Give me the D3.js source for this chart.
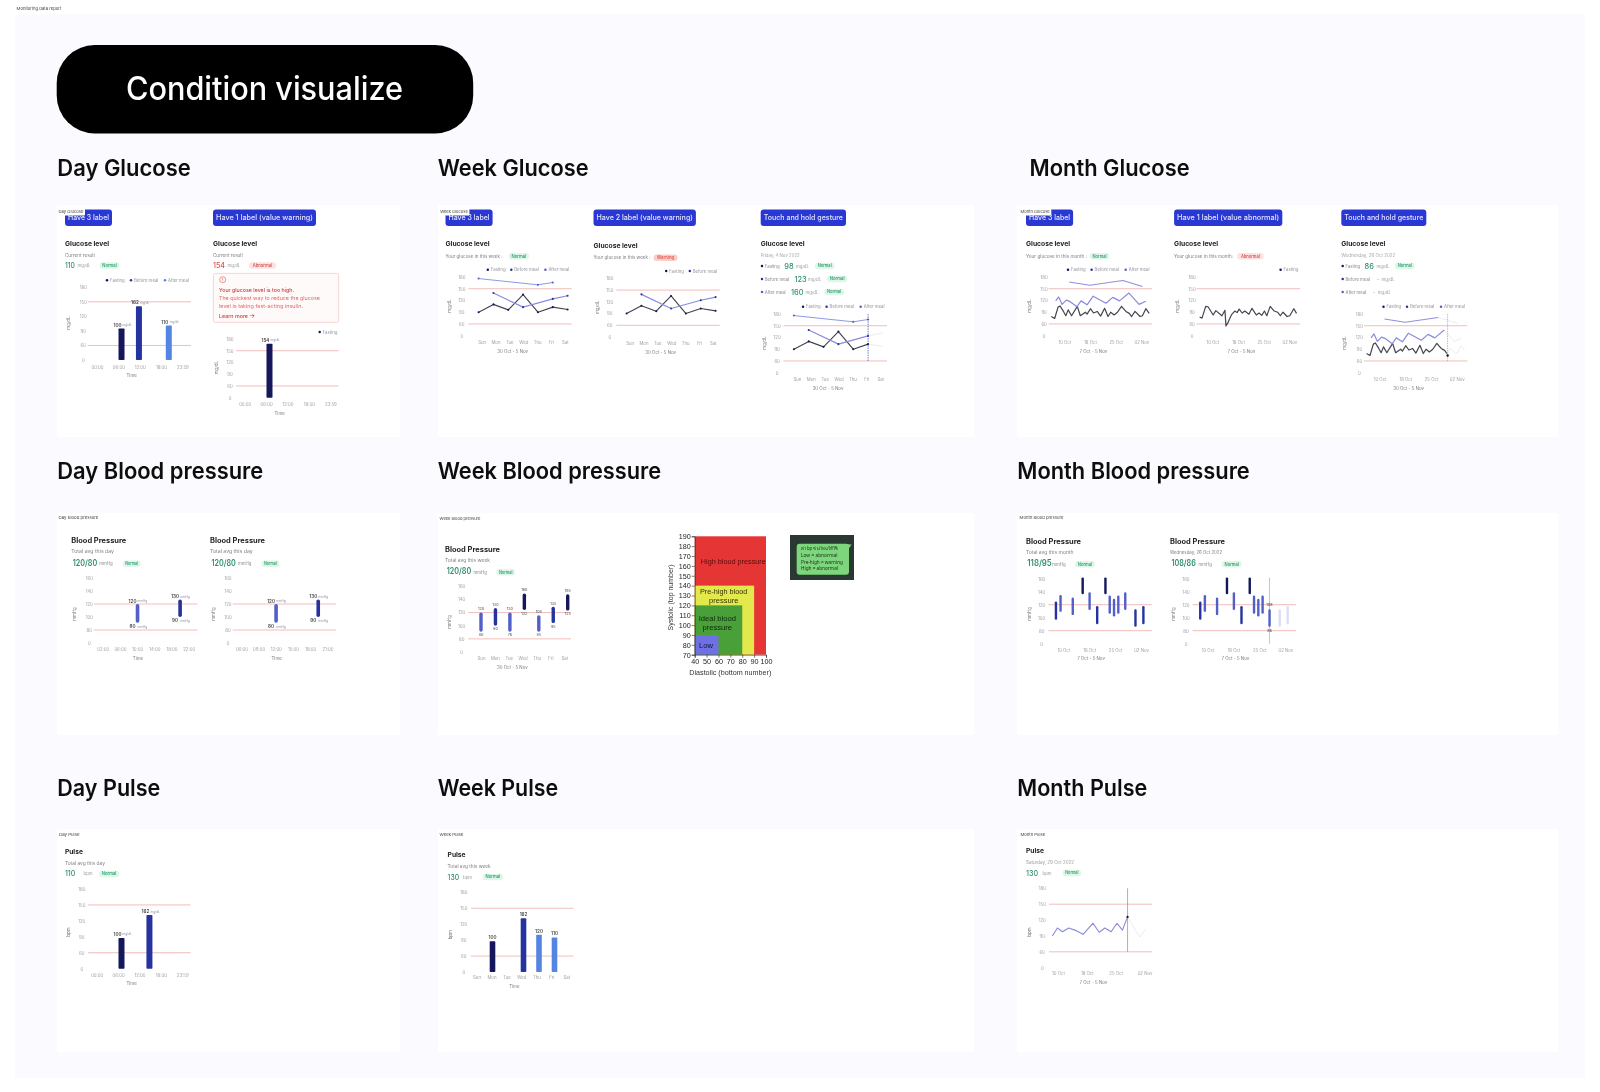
<!DOCTYPE html>
<html>
<head>
<meta charset="utf-8">
<script src="https://cdnjs.cloudflare.com/ajax/libs/d3/7.8.5/d3.min.js"></script>
<style>
html,body{margin:0;padding:0;background:#fff;overflow:hidden}
svg{display:block}
text{font-family:Inter,"Noto Sans",sans-serif}
</style>
</head>
<body>
<script>
// ---------- values ----------
const glucoseTicks = [0, 60, 90, 120, 150, 180];
const bpTicks = [0, 80, 100, 120, 140, 160];
const glucoseRefs = [60, 150];
const bpRefs = [80, 120];
const dayHourLabels = ["00:00", "06:00", "12:00", "18:00", "23:59"];
const weekDays = ["Sun", "Mon", "Tue", "Wed", "Thu", "Fri", "Sat"];
const monthLabels = ["10 Oct", "18 Oct", "25 Oct", "02 Nov"];

const dayGlucoseHours = [6.9, 11.8, 20.2];
const dayGlucoseValues = [95, 141, 101];
const dayGlucosePrinted = ["100", "162", "110"];
const dayGlucoseLevel = [2, 1, 3];
const dayWarnHours = [6.95];
const dayWarnValues = [168];
const dayWarnPrinted = ["154"];

const weekFasting = [90, 110, 96, 135, 90, 103, 97];
const weekBefore = [null, 139, null, 103, null, 124, 132];
const weekAfter = [176, null, null, null, 160, 166, null];

const monthFastDays = [0, 1, 2, 2.6, 3.6, 4.3, 5, 6, 7.7, 8.6, 10.1, 10.6, 11.6, 12.5, 13.6, 14.6, 15.8, 16.8, 17.6, 18.6, 19.6, 20.8, 22.1, 23.1, 23.8, 24.8, 26.3, 27, 28, 29];
const monthFasting = [79, 74, 103, 106, 92, 81, 96, 81, 105, 81, 90, 85, 99, 88, 92, 80, 100, 79, 90, 83, 90, 105, 92, 87, 79, 92, 79, 81, 99, 87];
const monthBeforeDays = [1.3, 2.2, 3.2, 4.4, 5.6, 7.6, 8.8, 10.6, 12.4, 14.3, 16.2, 18.2, 20.2, 23, 26, 28];
const monthBefore = [119, 129, 110, 121, 117, 104, 119, 109, 131, 122, 113, 128, 119, 139, 110, 118];
const monthAfterDays = [5.3, 11.4, 21.2, 27];
const monthAfter = [167, 159, 171, 156];
const abnormalDays = [0.1, 0.8, 1.9, 2.6, 4.1, 4.9, 6.7, 7.6, 7.9, 8.4, 9.5, 10.5, 11.2, 11.8, 12.7, 13.5, 14.7, 15.6, 16.9, 17.7, 18.5, 19.3, 20, 21, 22.2, 23.2, 24, 24.8, 26, 26.8, 28, 28.8];
const abnormalFasting = [78, 75, 105, 104, 83, 94, 81, 95, 50, 62, 83, 93, 89, 98, 88, 93, 85, 100, 83, 88, 82, 93, 81, 105, 93, 90, 81, 90, 79, 81, 99, 87];

const bpHoursA = [2, 6, 10, 14, 18, 22];
const bpHoursB = [6, 9, 12, 15, 18, 21];
const bpHourLabelsA = ["02:00", "06:00", "10:00", "14:00", "18:00", "22:00"];
const bpHourLabelsB = ["06:00", "09:00", "12:00", "15:00", "18:00", "21:00"];
const dayBpHoursA = [10.1, 20];
const dayBpHoursB = [12.05, 19.4];
const dayBpHigh = [120, 127];
const dayBpLow = [91, 100];
const dayBpLevel = [0, 1];
const dayBpHighPrinted = ["120", "130"];
const dayBpLowPrinted = ["80", "90"];

const weekBpHigh = [120, 127, 120, 149, 116, 129, 148];
const weekBpLow = [91, 100, 91, 124, 91, 104, 123];
const weekBpLevel = [0, 1, 0, 2, 0, 1, 2];
const weekBpHighPrinted = ["120", "130", "120", "160", "108", "135", "165"];
const weekBpLowPrinted = ["80", "90", "76", "132", "85", "95", "125"];

const monthBpDays = [0.8, 2.2, 5.9, 8.9, 11, 13.3, 15.8, 17.1, 18.4, 19.7, 21.8, 24.9, 27.3];
const monthBpHigh = [125, 135, 131, 162, 139, 118, 162, 134, 129, 134, 139, 113, 118];
const monthBpLow = [97, 109, 104, 136, 112, 90, 136, 106, 102, 106, 112, 86, 90];
const monthBpLevel = [1, 0, 0, 2, 0, 1, 2, 0, 0, 0, 0, 1, 1];
const touchBpHigh = [125, 135, 131, 162, 139, 118, 162, 134, 129, 134, 113, 113, 118];
const touchBpLow = [97, 109, 104, 136, 112, 90, 136, 106, 102, 106, 86, 86, 90];
const touchBpLevel = [1, 0, 0, 2, 0, 1, 2, 0, 0, 0, 0, 0, 0];

const dayPulseHours = [6.96, 14.8];
const dayPulseValues = [88, 131];
const dayPulsePrinted = ["100", "162"];
const dayPulseLevel = [2, 1];
const weekPulseDays = ["Mon", "Wed", "Thu", "Fri"];
const weekPulseValues = [88, 131, 100, 95];
const weekPulsePrinted = ["100", "162", "120", "110"];
const weekPulseLevel = [2, 1, 3, 3];
const monthPulseDays = [0, 1.5, 3, 4.8, 7, 9, 11.9, 13.7, 15.4, 17.2, 18.9, 20.5, 22, 23.8, 25.6, 27.3];
const monthPulse = [90, 105, 98, 105, 100, 93, 114, 97, 105, 98, 114, 101, 126, 106, 88, 103];

const zoneNames = ["High", "PreHigh", "Ideal", "Low"];
const zoneDiastolic = [100, 90, 80, 60];
const zoneSystolic = [190, 140, 120, 90];
const diastolicTicks = [40, 50, 60, 70, 80, 90, 100];
const systolicTicks = [70, 80, 90, 100, 110, 120, 130, 140, 150, 160, 170, 180, 190];
const noteLines = ["ค่า bp ช่วงไหนให้ใช้", "Low = abnormal", "Pre-high = warning", "High = abnormal"];

// ---------- palette ----------
const C = { navy: "#12175a", indigo: "#27339f", mid: "#5160c8", blue: "#5585e2", grey: "#9b9ba3", sub: "#7c7c85", dark: "#26262c", ref: "#f1bdb9",
  line: "#8a8bdc", ink: "#44444f", green: "#2f8f70" };
const barColor = d3.scaleOrdinal().domain([0, 1, 2, 3]).range([C.mid, C.indigo, C.navy, C.blue]);
const pills = { Normal: ["#dff6e9", "#1f9a66"], Abnormal: ["#fde0e0", "#cf4f4d"], Warning: ["#fbcfc8", "#d6534c"] };

// ---------- helpers ----------
const svg = d3.select("body").append("svg").attr("width", 1600).attr("height", 1092).attr("viewBox", "0 0 1600 1092");
const defs = svg.append("defs");
[["softFocus", .5], ["lightFocus", .3]].forEach(([id, sd]) => {
  defs.append("filter").attr("id", id).attr("filterUnits", "userSpaceOnUse")
    .attr("x", 0).attr("y", 0).attr("width", 1600).attr("height", 1092)
    .append("feGaussianBlur").attr("stdDeviation", sd);
});

function T(g, x, y, s, o = {}) {
  const t = g.append("text").attr("x", x).attr("y", y).text(s)
    .attr("font-size", o.size || 4.4).attr("fill", o.fill || C.grey)
    .attr("font-weight", o.weight || 400).attr("text-anchor", o.anchor || "start");
  if (!o.base) t.attr("dy", ".35em");
  if (o.len) t.attr("textLength", o.len).attr("lengthAdjust", "spacingAndGlyphs");
  if (o.rotate) t.attr("transform", `rotate(${o.rotate} ${x} ${y})`);
  if (o.family) t.style("font-family", o.family);
  return t;
}
function tag(x0, x1, y0, y1, s) {
  svg.append("rect").attr("x", x0).attr("y", y0).attr("width", x1 - x0).attr("height", y1 - y0).attr("rx", 1).attr("fill", "#fff");
  T(svg, x0 + 1.6, (y0 + y1) / 2, s, { size: 3.9, fill: "#444", len: x1 - x0 - 3.2 });
}
function card(x0, x1, y0, y1) {
  svg.append("rect").attr("x", x0).attr("y", y0).attr("width", x1 - x0).attr("height", y1 - y0).attr("fill", "#fff");
}
function badge(x0, x1, s) {
  svg.append("rect").attr("x", x0).attr("y", 209.5).attr("width", x1 - x0).attr("height", 16.5).attr("rx", 3).attr("fill", "#2b38d3");
  T(svg, x0 + 3, 217.7, s, { size: 7, fill: "#e3e6ff", weight: 500, len: x1 - x0 - 6 });
}
function pill(x0, x1, yc, kind) {
  svg.append("rect").attr("x", x0).attr("y", yc - 3.2).attr("width", x1 - x0).attr("height", 6.4).attr("rx", 3).attr("fill", pills[kind][0]);
  T(svg, (x0 + x1) / 2, yc, kind, { size: 4.2, fill: pills[kind][1], anchor: "middle", weight: 500, len: (x1 - x0) * .72 });
}
function title(x, y, s, w, size = 6.8) {
  T(svg, x, y, s, { size, weight: 700, fill: "#222", len: w });
}
function legend(dy, items) {
  items.forEach(([x, s, c]) => {
    svg.append("circle").attr("cx", x).attr("cy", dy).attr("r", 1.25).attr("fill", c);
    T(svg, x + 3, dy, s, { size: 4.3, fill: "#92929e" });
  });
}
function frame(c) {
  const g = svg.append("g");
  const y = d3.scaleLinear().domain(c.ticks).range(c.ticks.map((_, i) => c.y0 + (c.yTop - c.y0) * i / (c.ticks.length - 1)));
  g.selectAll("line.ref").data(c.refs).join("line").attr("x1", c.x0).attr("x2", c.x1)
    .attr("y1", d => y(d)).attr("y2", d => y(d)).attr("stroke", C.ref).attr("stroke-width", 1);
  const ax = g.append("g").attr("transform", `translate(${c.tickX},0)`).call(d3.axisLeft(y).tickValues(c.ticks).tickSize(0).tickPadding(0));
  ax.select(".domain").remove();
  ax.selectAll("text").attr("text-anchor", "middle").attr("font-size", 4.3).attr("fill", "#9f9fa6").attr("font-family", "Inter");
  const xl = d3.scalePoint().domain(c.labels).range([c.lx0, c.lx1]);
  const bx = g.append("g").attr("transform", `translate(0,${c.ly})`).call(d3.axisBottom(xl).tickSize(0).tickPadding(0));
  bx.select(".domain").remove();
  bx.selectAll("text").attr("dy", ".35em").attr("y", 0).attr("font-size", 4.3).attr("fill", "#9f9fa6").attr("font-family", "Inter");
  if (c.xTitle) T(g, c.xTitle[1], c.xTitle[2], c.xTitle[0], { size: 4.4, anchor: "middle", fill: "#7c7c85" });
  if (c.yTitle) T(g, c.yTitle[1], c.yTitle[2], c.yTitle[0], { size: 4.4, anchor: "middle", fill: "#7c7c85", rotate: -90 });
  return { g, y, xl };
}
function valueLabel(g, cx, yc, v, unit, col = "#444") {
  const offs = unit ? -4 : 0;
  T(g, cx + offs, yc, v, { size: 4.6, weight: 600, fill: col, anchor: "middle" });
  if (unit) T(g, cx + offs + 5, yc, unit, { size: 3.1, fill: "#9090ac" });
}
function bars(f, xs, vals, levels, printed, unit, w = 6) {
  const base = f.y(0);
  f.g.selectAll(null).data(vals).join("rect")
    .attr("x", (d, i) => xs[i] - w / 2).attr("width", w)
    .attr("y", d => f.y(d)).attr("height", d => base - f.y(d))
    .attr("rx", .8).attr("fill", (d, i) => barColor(levels[i]));
  vals.forEach((d, i) => valueLabel(f.g, xs[i], f.y(d) - 3.6, printed[i], unit));
}
function ranges(f, xs, hi, lo, levels, w, opacity) {
  f.g.selectAll(null).data(hi).join("rect")
    .attr("x", (d, i) => xs[i] - w / 2).attr("width", w)
    .attr("y", d => f.y(d)).attr("height", (d, i) => f.y(lo[i]) - f.y(d))
    .attr("rx", w / 2).attr("fill", (d, i) => barColor(levels[i]))
    .attr("opacity", (d, i) => opacity ? opacity(i) : 1);
}
function path(f, xs, vals, color, width = 1, opacity = 1) {
  const pts = xs.map((x, i) => [x, vals[i]]).filter(p => p[1] != null);
  f.g.append("path").attr("d", d3.line().x(p => p[0]).y(p => f.y(p[1]))(pts))
    .attr("fill", "none").attr("stroke", color).attr("stroke-width", width).attr("opacity", opacity).attr("stroke-linejoin", "round");
  return pts;
}
function dots(f, pts, color, r = 1.05) {
  f.g.selectAll(null).data(pts).join("circle").attr("cx", p => p[0]).attr("cy", p => f.y(p[1])).attr("r", r).attr("fill", color);
}
function focus(f, x, y0, y1, dashed, color) {
  const l = f.g.append("line").attr("x1", x).attr("x2", x).attr("y1", y0).attr("y2", y1).attr("stroke", color).attr("stroke-width", .7);
  if (dashed) l.attr("stroke-dasharray", "1.4 1");
}

// ---------- page ----------
svg.append("rect").attr("x", 15).attr("y", 14).attr("width", 1570).attr("height", 1064).attr("fill", "#fbfaff");
tag(15, 63, 3, 14, "Monitoring data report");
svg.append("rect").attr("class", "big").attr("x", 56.7).attr("y", 45).attr("width", 416.5).attr("height", 88.5).attr("rx", 38).attr("fill", "#000");
T(svg, 126, 100.4, "Condition visualize", { size: 32, weight: 500, fill: "#fff", base: true, len: 277 }).attr("class", "big");

const sectionNames = ["Day Glucose", "Week Glucose", "Month Glucose", "Day Blood pressure", "Week Blood pressure", "Month Blood pressure", "Day Pulse", "Week Pulse", "Month Pulse"];
[[57.3, 176, 133.5], [437.7, 176, 151], [1029.6, 176, 160], [57.3, 479, 206], [437.7, 479, 223.5], [1017.3, 479, 232.5], [57.3, 796, 103], [437.7, 796, 120.5], [1017.3, 796, 130]]
  .forEach((p, i) => T(svg, p[0], p[1], sectionNames[i], { size: 22.5, weight: 600, fill: "#111", base: true, len: p[2] }).attr("class", "big"));

[[57, 400], [438, 974], [1017, 1558]].forEach(([a, b]) => {
  card(a, b, 205, 437); card(a, b, 513, 735); card(a, b, 829, 1052);
});

// ---------- Day glucose ----------
badge(65, 112, "Have 3 label");
badge(213, 316, "Have 1 label  (value warning)");
tag(57, 85, 208, 215.5, "Day Glucose");
title(65, 243.5, "Glucose level", 44);
T(svg, 65, 255.3, "Current result", { len: 30, fill: C.sub });
T(svg, 65, 265.3, "110", { size: 7.6, weight: 500, fill: C.green, len: 10 });
T(svg, 77.5, 265.3, "mg/dL", { size: 4.3 });
pill(99.5, 119.5, 265.5, "Normal");
legend(280.3, [[107, "Fasting", C.navy], [131, "Before meal", C.indigo], [165, "After meal", C.blue]]);
{
  const lx0 = 97, lx1 = 182.3;
  const f = frame({ x0: 87.7, x1: 191, yTop: 287.3, y0: 360, tickX: 83.3, ticks: glucoseTicks, refs: glucoseRefs, labels: dayHourLabels, lx0, lx1, ly: 367,
    xTitle: ["Time", 131.7, 375.5], yTitle: ["mg/dL", 68, 323] });
  const h = d3.scaleLinear().domain([0, 24]).range([lx0, lx1]);
  bars(f, dayGlucoseHours.map(h), dayGlucoseValues, dayGlucoseLevel, dayGlucosePrinted, "mg/dL");
}
title(213, 243.5, "Glucose level", 44);
T(svg, 213, 255.3, "Current result", { len: 30, fill: C.sub });
T(svg, 213, 265.3, "154", { size: 7.6, weight: 500, fill: "#d6534c", len: 12 });
T(svg, 227.5, 265.3, "mg/dL", { size: 4.3 });
pill(249, 276, 265.5, "Abnormal");
svg.append("rect").attr("x", 213.4).attr("y", 273.4).attr("width", 125.3).attr("height", 49).attr("rx", 2).attr("fill", "#fffafa").attr("stroke", "#f5c4c4").attr("stroke-width", .7);
svg.append("circle").attr("cx", 222.7).attr("cy", 279.7).attr("r", 3).attr("fill", "none").attr("stroke", "#d9534f").attr("stroke-width", .6);
T(svg, 222.7, 279.7, "!", { size: 4, fill: "#d9534f", anchor: "middle", weight: 600 });
T(svg, 219, 290, "Your glucose level is too high.", { size: 5, weight: 500, fill: "#c8403d", len: 75 });
T(svg, 219, 298.7, "The quickest way to reduce the glucose", { size: 5, fill: "#e06a66", len: 101 });
T(svg, 219, 306.4, "level is taking fast-acting insulin.", { size: 5, fill: "#e06a66", len: 84 });
T(svg, 219, 316.3, "Learn more", { size: 5, weight: 500, fill: "#c8403d", len: 29 });
T(svg, 252, 316, "→", { size: 6.5, fill: "#c8403d", anchor: "middle" });
legend(332, [[319.7, "Fasting", C.navy]]);
{
  const lx0 = 244.7, lx1 = 330.3;
  const f = frame({ x0: 236, x1: 338.7, yTop: 339, y0: 397.7, tickX: 230, ticks: glucoseTicks, refs: glucoseRefs, labels: dayHourLabels, lx0, lx1, ly: 404.3,
    xTitle: ["Time", 279.7, 413.3], yTitle: ["mg/dL", 216.7, 367.7] });
  const h = d3.scaleLinear().domain([0, 24]).range([lx0, lx1]);
  bars(f, dayWarnHours.map(h), dayWarnValues, [2], dayWarnPrinted, "mg/dL");
}

// ---------- Week glucose ----------
function weekChart(dx, dy, withAfter, focusIndex) {
  const f = frame({ x0: 468.3 + dx, x1: 571.7 + dx, yTop: 277 + dy, y0: 335.7 + dy, tickX: 461.8 + dx, ticks: glucoseTicks, refs: glucoseRefs,
    labels: weekDays, lx0: 481.6 + dx, lx1: 564.9 + dx, ly: 342 + dy, xTitle: ["30 Oct - 5 Nov", 512.7 + dx, 351 + dy], yTitle: ["mg/dL", 449 + dx, 306 + dy] });
  const xp = d3.scalePoint().domain(weekDays).range([478.6 + dx, 567.6 + dx]);
  const xs = weekDays.map(d => xp(d));
  const cut = a => focusIndex == null ? a : a.map((v, i) => i <= focusIndex ? v : null);
  const ghost = a => a.map((v, i) => i >= focusIndex ? v : null);
  const drawn = [[weekFasting, C.ink, 1.15], [weekBefore, C.line, 1.15]];
  if (withAfter) drawn.push([weekAfter, "#8b9ae6", 1]);
  drawn.forEach(([vals, col, w], k) => {
    const pts = path(f, xs, cut(vals), col, w);
    dots(f, pts, k === 0 ? C.navy : k === 1 ? C.indigo : C.mid);
    if (focusIndex != null && k < 2) path(f, xs, ghost(vals), "#b8b8c4", .8, .35);
  });
  if (focusIndex != null) focus(f, xs[focusIndex], f.y(180), f.y(60), true, C.indigo);
}
badge(445.5, 492.6, "Have 3 label");
tag(438.6, 469.4, 208, 215.5, "Week Glucose");
title(445.5, 243.7, "Glucose level", 44);
T(svg, 445.5, 256.3, "Your glucose in this week :", { len: 57, fill: C.sub });
pill(508.6, 529, 256.3, "Normal");
legend(269.7, [[487.8, "Fasting", C.navy], [511.3, "Before meal", C.indigo], [545.4, "After meal", C.mid]]);
weekChart(0, 0, true);

badge(593.5, 695.9, "Have 2 label (value warning)");
title(593.5, 245.3, "Glucose level", 44);
T(svg, 593.5, 257.7, "Your glucose in this week :", { len: 57, fill: C.sub });
pill(653.6, 677.5, 257.7, "Warning");
legend(271, [[666.2, "Fasting", C.navy], [689.8, "Before meal", C.indigo]]);
weekChart(148, 1.33, false);

badge(760.7, 846, "Touch and hold gesture");
title(760.7, 243.7, "Glucose level", 44);
T(svg, 760.7, 255.3, "Friday, 4 Nov 2022", { len: 39, fill: "#a6a6ae" });
function row(y, dotX, label, color, val, vx, ux, px0, px1) {
  svg.append("circle").attr("cx", dotX).attr("cy", y).attr("r", 1.25).attr("fill", color);
  T(svg, dotX + 2.8, y, label, { size: 4.3, fill: "#868690" });
  if (val === "-") T(svg, vx, y, "–", { size: 4.3 });
  else T(svg, vx, y, val, { size: 7.4, weight: 500, fill: C.green });
  T(svg, ux, y, "mg/dL", { size: 4.3 });
  if (px0) pill(px0, px1, y, "Normal");
}
row(266, 762, "Fasting", C.navy, "98", 784.3, 795.9, 815, 834.4);
row(279, 762, "Before meal", C.indigo, "123", 794.5, 808.1, 827, 847.4);
row(292, 762, "After meal", C.mid, "160", 791, 805.4, 824.2, 844);
legend(306.7, [[803, "Fasting", C.navy], [826.6, "Before meal", C.indigo], [860.7, "After meal", C.mid]]);
weekChart(315.3, 37, true, 5);

// ---------- Month glucose ----------
function monthChart(dx, dy, sets, focusDay, sub) {
  const f = frame({ x0: 1048.6 + dx, x1: 1152 + dx, yTop: 277 + dy, y0: 335.7 + dy, tickX: 1044.1 + dx, ticks: glucoseTicks, refs: glucoseRefs,
    labels: monthLabels, lx0: 1064.3 + dx, lx1: 1141.4 + dx, ly: 342 + dy, xTitle: [sub, 1093.3 + dx, 351 + dy], yTitle: ["mg/dL", 1029 + dx, 306 + dy] });
  const xd = d3.scaleLinear().domain([0, 29]).range([1051.3 + dx, 1149.2 + dx]);
  sets.forEach(([days, vals, col, w]) => {
    if (focusDay == null) { path(f, days.map(xd), vals, col, w); return; }
    const n = days.findIndex(d => d > focusDay);
    const k = n < 0 ? days.length : n;
    path(f, days.slice(0, k).map(xd), vals.slice(0, k), col, w);
    if (n >= 0) path(f, days.slice(k - 1).map(xd), vals.slice(k - 1), "#b8b8c4", .8, .35);
  });
  if (focusDay != null) {
    focus(f, xd(focusDay), f.y(180), f.y(60), true, "#9a9aa4");
    dots(f, [[xd(focusDay), 74]], "#111", 1.2);
  }
}
const monthSets = [[monthFastDays, monthFasting, C.ink, 1.2], [monthBeforeDays, monthBefore, C.line, 1.2], [monthAfterDays, monthAfter, "#8f90de", 1.05]];
badge(1026, 1073.1, "Have 3 label");
tag(1018.9, 1051.3, 208, 215.5, "Month Glucose");
title(1026, 243.7, "Glucose level", 44);
T(svg, 1026, 256.3, "Your glucose in this month :", { len: 61, fill: C.sub });
pill(1089.8, 1109.3, 256.3, "Normal");
legend(269.7, [[1068, "Fasting", C.navy], [1091.6, "Before meal", C.indigo], [1125.7, "After meal", C.mid]]);
monthChart(0, 0, monthSets, null, "7 Oct - 5 Nov");

badge(1174.1, 1282.3, "Have 1 label  (value abnormal)");
title(1174.1, 243.7, "Glucose level", 44);
T(svg, 1174.1, 256.3, "Your glucose in this month:", { len: 59, fill: C.sub });
pill(1237.2, 1263.5, 256.3, "Abnormal");
legend(269.7, [[1280.6, "Fasting", C.navy]]);
monthChart(148, 0, [[abnormalDays, abnormalFasting, C.ink, 1.2]], null, "7 Oct - 5 Nov");

badge(1341.3, 1426.3, "Touch and hold gesture");
title(1341.3, 243.7, "Glucose level", 44);
T(svg, 1341.3, 255.3, "Wednesday, 26 Oct 2022", { len: 54, fill: "#a6a6ae" });
row(266, 1342.7, "Fasting", C.navy, "86", 1364.5, 1376.4, 1394.9, 1414.7);
row(279, 1342.7, "Before meal", C.indigo, "-", 1377.1, 1381.6);
row(292, 1342.7, "After meal", C.mid, "-", 1373, 1377.8);
legend(306.7, [[1383.5, "Fasting", C.navy], [1407, "Before meal", C.indigo], [1441, "After meal", C.mid]]);
monthChart(315.3, 37, monthSets, 24, "30 Oct - 5 Nov");

// ---------- Day blood pressure ----------
function bpHead(x, yT, yS, yV, yP, sub, val, vx, ux, px0, px1) {
  title(x, yT, "Blood Pressure", 55, 7);
  T(svg, x, yS, sub, { len: sub.length * 2.37, fill: C.sub });
  T(svg, vx, yV, val, { size: 8.6, weight: 600, fill: C.green, len: 24.5 });
  T(svg, ux, yP, "mmHg", { size: 4.3, fill: "#868690" });
  pill(px0, px1, yP, "Normal");
}
function dayBp(dx, hours, labels, barHours) {
  const lx0 = 102.7 + dx, lx1 = 188.7 + dx;
  const f = frame({ x0: 94 + dx, x1: 197.3 + dx, yTop: 578, y0: 643, tickX: 89.3 + dx, ticks: bpTicks, refs: bpRefs, labels, lx0, lx1, ly: 649.7,
    xTitle: ["Time", 138 + dx, 658.3], yTitle: ["mmHg", 74.7 + dx, 614] });
  const h = d3.scaleLinear().domain([hours[0], hours[hours.length - 1]]).range([lx0, lx1]);
  const xs = barHours.map(h);
  ranges(f, xs, dayBpHigh, dayBpLow, dayBpLevel, 3.6);
  xs.forEach((x, i) => {
    valueLabel(f.g, x - 1, f.y(dayBpHigh[i]) - 3, dayBpHighPrinted[i], "mmHg");
    valueLabel(f.g, x - 1, f.y(dayBpLow[i]) + 3.6, dayBpLowPrinted[i], "mmHg");
  });
}
tag(57, 100, 513, 523, "Day Blood pressure");
bpHead(71.3, 541, 551.7, 562.7, 563.7, "Total avg this day", "120/80", 72.7, 99.3, 122.7, 140.7);
dayBp(0, bpHoursA, bpHourLabelsA, dayBpHoursA);
bpHead(210, 541, 551.7, 562.7, 563.7, "Total avg this day", "120/80", 211.4, 238, 261.4, 279.4);
dayBp(138.7, bpHoursB, bpHourLabelsB, dayBpHoursB);

// ---------- Week blood pressure ----------
tag(438, 482, 514, 523, "Week Blood pressure");
bpHead(445, 550, 560.7, 571.3, 572.3, "Total avg this week", "120/80", 446.7, 473.5, 496.3, 515);
{
  const f = frame({ x0: 468.3, x1: 571, yTop: 586.3, y0: 652, tickX: 461.7, ticks: bpTicks, refs: bpRefs, labels: weekDays, lx0: 481, lx1: 564.3, ly: 658.3,
    xTitle: ["30 Oct - 5 Nov", 512.3, 667], yTitle: ["mmHg", 449, 622] });
  const xp = d3.scalePoint().domain(weekDays).range([481, 567.7]);
  const xs = weekDays.map(d => xp(d));
  ranges(f, xs, weekBpHigh, weekBpLow, weekBpLevel, 3.4);
  xs.forEach((x, i) => {
    T(f.g, x, f.y(weekBpHigh[i]) - 3.4, weekBpHighPrinted[i], { size: 3.7, fill: "#666", anchor: "middle", weight: 500 });
    T(f.g, x, f.y(weekBpLow[i]) + 3.3, weekBpLowPrinted[i], { size: 3.7, fill: "#666", anchor: "middle", weight: 500 });
  });
}

// ---------- Zone chart ----------
{
  const g = svg.append("g");
  const x = d3.scaleLinear().domain([40, 100]).range([694.7, 766]);
  const y = d3.scaleLinear().domain([70, 190]).range([654.7, 536.3]);
  const zoneColor = d3.scaleOrdinal().domain(zoneNames).range(["#e53535", "#e3e84c", "#4a9f38", "#6e6fe4"]);
  g.selectAll("rect").data(zoneNames).join("rect")
    .attr("x", x(40)).attr("width", (d, i) => x(zoneDiastolic[i]) - x(40))
    .attr("y", (d, i) => y(zoneSystolic[i])).attr("height", (d, i) => y(70) - y(zoneSystolic[i]))
    .attr("fill", d => zoneColor(d));
  const sans = "'Liberation Sans',sans-serif";
  const ax = g.append("g").attr("transform", `translate(${x(40)},0)`).call(d3.axisLeft(y).tickValues(systolicTicks).tickSize(3).tickPadding(1));
  const bx = g.append("g").attr("transform", `translate(0,${y(70)})`).call(d3.axisBottom(x).tickValues(diastolicTicks).tickSize(3).tickPadding(1));
  [ax, bx].forEach(a => {
    a.select(".domain").attr("stroke", "#222").attr("stroke-width", .6);
    a.selectAll("line").attr("stroke", "#222").attr("stroke-width", .6);
    a.selectAll("text").attr("font-size", 7.2).attr("fill", "#222").style("font-family", sans);
  });
  const o = { size: 8, fill: "#3a1414", anchor: "middle", family: sans };
  T(g, 733.3, 561.5, "High blood pressure", { ...o, len: 65, fill: "#5a0d0d" });
  T(g, 723.7, 591, "Pre-high blood", { ...o, size: 7.6, fill: "#33340a", len: 47.5 });
  T(g, 723.7, 600.3, "pressure", { ...o, size: 7.6, fill: "#33340a" });
  T(g, 717.3, 618.3, "Ideal blood", { ...o, size: 7.6, fill: "#0f280c" });
  T(g, 717.3, 627.3, "pressure", { ...o, size: 7.6, fill: "#0f280c" });
  T(g, 706, 645, "Low", { ...o, size: 7.6, fill: "#14144a" });
  T(g, 670.7, 597.5, "Systolic (top number)", { size: 7.6, fill: "#333", anchor: "middle", rotate: -90, family: sans, len: 66 });
  T(g, 730.3, 672.3, "Diastolic (bottom number)", { size: 7.6, fill: "#333", anchor: "middle", family: sans, len: 82 });

  svg.append("rect").attr("x", 790).attr("y", 535).attr("width", 64).attr("height", 45).attr("fill", "#2c3933");
  svg.append("rect").attr("x", 796.7).attr("y", 543.7).attr("width", 52.3).attr("height", 31).attr("rx", 3).attr("fill", "#7dd67b");
  svg.append("path").attr("d", d3.line()([[845, 544], [851.5, 544.5], [848.8, 548.5]])).attr("fill", "#7dd67b");
  const noteWidths = [36.5, 36.5, 42, 37];
  noteLines.forEach((s, i) => T(svg, 801, 548.7 + i * 6.67, s, { size: 4.4, fill: "#1c2b1c", family: "'Noto Sans','Noto Sans CJK SC',sans-serif", len: noteWidths[i] }));
}

// ---------- Month blood pressure ----------
function monthBp(dx, hi, lo, lev, focusIndex) {
  const f = frame({ x0: 1048.3 + dx, x1: 1151.7 + dx, yTop: 578.7, y0: 643.7, tickX: 1041.7 + dx, ticks: bpTicks, refs: bpRefs, labels: monthLabels,
    lx0: 1063.3 + dx, lx1: 1141 + dx, ly: 650.3, xTitle: ["7 Oct - 5 Nov", 1091 + dx, 658.5], yTitle: ["mmHg", 1029 + dx, 614] });
  const xd = d3.scaleLinear().domain([0, 29]).range([1053.3 + dx, 1149 + dx]);
  const xs = monthBpDays.map(xd);
  if (focusIndex != null) focus(f, xs[focusIndex], f.y(160) - 1, f.y(0), false, "#a9a9b2");
  ranges(f, xs, hi, lo, lev, 2.4, focusIndex == null ? null : i => i > focusIndex ? .2 : 1);
  if (focusIndex != null) {
    T(f.g, xs[focusIndex], f.y(120) + .5, "108", { size: 3.7, fill: "#666", anchor: "middle", weight: 600 });
    T(f.g, xs[focusIndex], f.y(80) - .3, "86", { size: 3.7, fill: "#666", anchor: "middle", weight: 600 });
  }
}
tag(1018, 1065, 513, 523, "Month Blood pressure");
bpHead(1026, 542, 552.3, 563.3, 564.3, "Total avg this month", "118/95", 1027.3, 1052.3, 1075, 1095);
monthBp(0, monthBpHigh, monthBpLow, monthBpLevel);
bpHead(1170, 542, 552.3, 563.3, 564.3, "Wednesday, 26 Oct 2022", "108/86", 1171.4, 1198.5, 1221.7, 1241.7);
monthBp(144.3, touchBpHigh, touchBpLow, touchBpLevel, 10);

// ---------- Pulse ----------
tag(57.4, 81.1, 829.7, 839.7, "Day Pulse");
title(64.9, 851.7, "Pulse", 18);
T(svg, 64.9, 863.3, "Total avg this day", { len: 40, fill: C.sub });
T(svg, 64.9, 873.7, "110", { size: 7.6, weight: 500, fill: C.green, len: 10.5 });
T(svg, 83.5, 873.7, "bpm", { size: 4.3 });
pill(99, 119.3, 874, "Normal");
{
  const lx0 = 96.7, lx1 = 182.2;
  const f = frame({ x0: 87.9, x1: 190.6, yTop: 889, y0: 968.7, tickX: 81.8, ticks: glucoseTicks, refs: glucoseRefs, labels: dayHourLabels, lx0, lx1, ly: 975,
    xTitle: ["Time", 131.6, 983.7], yTitle: ["bpm", 68.3, 932] });
  const h = d3.scaleLinear().domain([0, 24]).range([lx0, lx1]);
  bars(f, dayPulseHours.map(h), dayPulseValues, dayPulseLevel, dayPulsePrinted, "mg/dL");
}
tag(438, 465, 829.7, 839.7, "Week Pulse");
title(447.6, 855, "Pulse", 18);
T(svg, 447.6, 866.7, "Total avg this week", { len: 43, fill: C.sub });
T(svg, 447.6, 877, "130", { size: 7.6, weight: 500, fill: C.green, len: 11.5 });
T(svg, 463, 877, "bpm", { size: 4.3 });
pill(482.7, 503, 877, "Normal");
{
  const f = frame({ x0: 470.9, x1: 573.3, yTop: 892.3, y0: 972, tickX: 463.8, ticks: glucoseTicks, refs: glucoseRefs, labels: weekDays, lx0: 476.5, lx1: 566.3, ly: 977.5,
    xTitle: ["Time", 514.3, 986.7], yTitle: ["bpm", 450.6, 934.7] });
  const xp = d3.scalePoint().domain(weekDays).range([477, 570]);
  bars(f, weekPulseDays.map(d => xp(d)), weekPulseValues, weekPulseLevel, weekPulsePrinted, null, 5.6);
}
tag(1019, 1046.7, 829.7, 840, "Month Pulse");
title(1026, 850.7, "Pulse", 18);
T(svg, 1026, 862, "Saturday, 29 Oct 2022", { len: 48, fill: "#9a9aa4" });
T(svg, 1026, 873, "130", { size: 7.6, weight: 500, fill: C.green, len: 12 });
T(svg, 1042.5, 873, "bpm", { size: 4.3 });
pill(1062.7, 1081, 873, "Normal");
{
  const f = frame({ x0: 1049, x1: 1152, yTop: 888.3, y0: 967.7, tickX: 1042.3, ticks: glucoseTicks, refs: glucoseRefs, labels: monthLabels, lx0: 1058, lx1: 1144.5, ly: 973,
    xTitle: ["7 Oct - 5 Nov", 1093.4, 982.3], yTitle: ["bpm", 1029.5, 932] });
  const xd = d3.scaleLinear().domain([0, 27.3]).range([1052.3, 1145.7]);
  const k = 13;
  path(f, monthPulseDays.slice(0, k).map(xd), monthPulse.slice(0, k), C.line, 1.15);
  path(f, monthPulseDays.slice(k - 1).map(xd), monthPulse.slice(k - 1), "#b8b8c4", .8, .35);
  focus(f, xd(monthPulseDays[k - 1]), f.y(180), f.y(60), false, "#8a8a92");
  dots(f, [[xd(monthPulseDays[k - 1]), monthPulse[k - 1]]], "#111", 1.1);
}

// ---------- soft focus like the reference, lighter on the large elements ----------
const soft = svg.append("g").attr("filter", "url(#softFocus)");
const sharp = svg.append("g").attr("filter", "url(#lightFocus)");
Array.from(svg.node().children).forEach(n => {
  if (n === soft.node() || n === sharp.node() || n === defs.node()) return;
  (n.getAttribute("class") === "big" ? sharp : soft).node().appendChild(n);
});
</script>
</body>
</html>
